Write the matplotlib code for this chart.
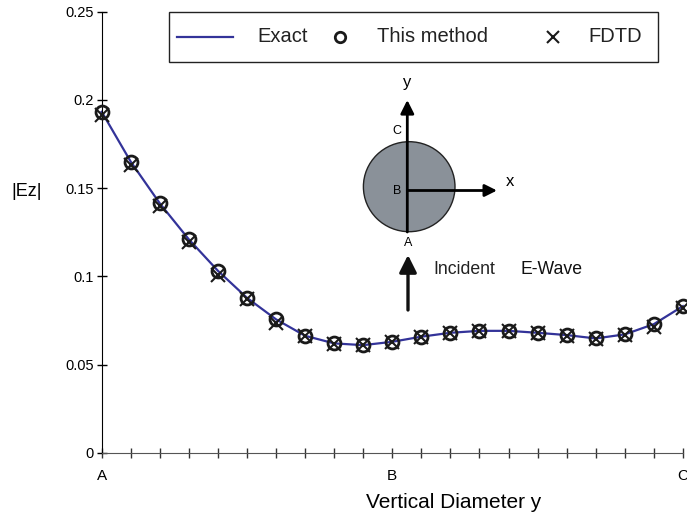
import matplotlib
matplotlib.use('Agg')
import matplotlib.pyplot as plt
from matplotlib import patches
from matplotlib.lines import Line2D

plt.rcParams['font.family'] = ['Liberation Sans', 'DejaVu Sans']

# positions along the vertical diameter, A (0) -> B (10) -> C (20)
pos = list(range(21))
exact = [0.1933, 0.1650, 0.1414, 0.1210, 0.1032, 0.0879, 0.0757, 0.0664, 0.0621, 0.0611,
         0.0630, 0.0659, 0.0681, 0.0692, 0.0692, 0.0681, 0.0668, 0.0649, 0.0672, 0.0730, 0.0832]
this_method = [0.1933, 0.1650, 0.1414, 0.1210, 0.1032, 0.0879, 0.0757, 0.0664, 0.0621, 0.0611,
               0.0630, 0.0659, 0.0681, 0.0692, 0.0692, 0.0681, 0.0668, 0.0649, 0.0672, 0.0730, 0.0832]
fdtd = [0.1915, 0.1630, 0.1399, 0.1197, 0.1008, 0.0870, 0.0738, 0.0662, 0.0619, 0.0609,
        0.0628, 0.0657, 0.0679, 0.0690, 0.0690, 0.0679, 0.0665, 0.0646, 0.0668, 0.0715, 0.0819]
xtick_labels = {0: 'A', 10: 'B', 20: 'C'}
yticks = [0, 0.05, 0.1, 0.15, 0.2, 0.25]
ytick_labels = ['0', '0.05', '0.1', '0.15', '0.2', '0.25']

W, H = 687, 516
fig = plt.figure(figsize=(W / 100, H / 100), dpi=100)
ax = fig.add_axes([101.7 / W, 1 - 453 / H, 581.2 / W, 441.3 / H])

line_c = '#333399'
ax.plot(pos, exact, color=line_c, lw=1.6, zorder=2, clip_on=False)
ax.plot(pos, this_method, ls='none', marker='o', ms=9.3, mfc='none', mec='#1a1a1a', mew=2,
        zorder=3, clip_on=False)
ax.plot(pos, fdtd, ls='none', marker='x', ms=10.5, mec='#1a1a1a', mew=1.5, zorder=3, clip_on=False)

ax.set_xlim(0, 20)
ax.set_ylim(0, 0.25)
ax.set_xticks(pos)
ax.set_xticklabels([xtick_labels.get(p, '') for p in pos], fontsize=11)
ax.set_yticks(yticks)
ax.set_yticklabels(ytick_labels, fontsize=10.5)
ax.tick_params(axis='y', direction='inout', length=7, width=1, pad=2)
ax.tick_params(axis='x', direction='inout', length=7, width=1, pad=8, color='#333333')
for s in ['top', 'right']:
    ax.spines[s].set_visible(False)
ax.spines['bottom'].set_color('#555555')
ax.spines['left'].set_color('k')
ax.patch.set_alpha(0)

fig.text(27 / W, 1 - 192 / H, '|Ez|', fontsize=13, ha='center', va='center')
fig.text(454 / W, 1 - 502 / H, 'Vertical Diameter y', fontsize=15, ha='center', va='center')

# overlay in pixel coordinates for the legend box and the sketch
ov = fig.add_axes([0, 0, 1, 1])
ov.set_xlim(0, W)
ov.set_ylim(H, 0)
ov.axis('off')

ov.add_patch(patches.Rectangle((169, 12), 489, 50, facecolor='white', edgecolor='#222222', lw=1))
ov.add_line(Line2D([177, 233], [37, 37], color=line_c, lw=1.6))
ov.plot(340, 37, marker='o', ms=7.5, mfc='none', mec='#1a1a1a', mew=2)
ov.plot(553, 37, marker='x', ms=9, mec='#1a1a1a', mew=1.5)
ov.text(257, 37, 'Exact', fontsize=14.5, va='center', ha='left', color='#222222')
ov.text(377, 37, 'This method', fontsize=14.5, va='center', ha='left', color='#222222')
ov.text(588, 37, 'FDTD', fontsize=14.5, va='center', ha='left', color='#222222')

ov.add_patch(patches.Ellipse((409.2, 186.7), 91.6, 90, facecolor='#8a9199', edgecolor='#222222', lw=1))
ov.annotate('', xy=(407.3, 100), xytext=(407.3, 232),
            arrowprops=dict(arrowstyle='-|>', lw=2, color='k', mutation_scale=20, shrinkA=0, shrinkB=0))
ov.annotate('', xy=(497, 190.5), xytext=(407.3, 190.5),
            arrowprops=dict(arrowstyle='-|>', lw=2, color='k', mutation_scale=18, shrinkA=0, shrinkB=0))
ov.annotate('', xy=(408, 255), xytext=(408, 310),
            arrowprops=dict(arrowstyle='-|>', lw=2.4, color='#111111', mutation_scale=26, shrinkA=0, shrinkB=0))
ov.text(406.7, 82, 'y', fontsize=12, ha='center', va='center')
ov.text(510, 182, 'x', fontsize=12, ha='center', va='center')
ov.text(397, 131, 'C', fontsize=9, ha='center', va='center')
ov.text(397, 191, 'B', fontsize=9, ha='center', va='center')
ov.text(408.3, 243, 'A', fontsize=9, ha='center', va='center')
ov.text(433, 270, 'Incident', fontsize=12.7, ha='left', va='center', color='#222222')
ov.text(520, 269, 'E-Wave', fontsize=12.7, ha='left', va='center', color='#111111')

fig.savefig('out.png', dpi=100, facecolor='w')
